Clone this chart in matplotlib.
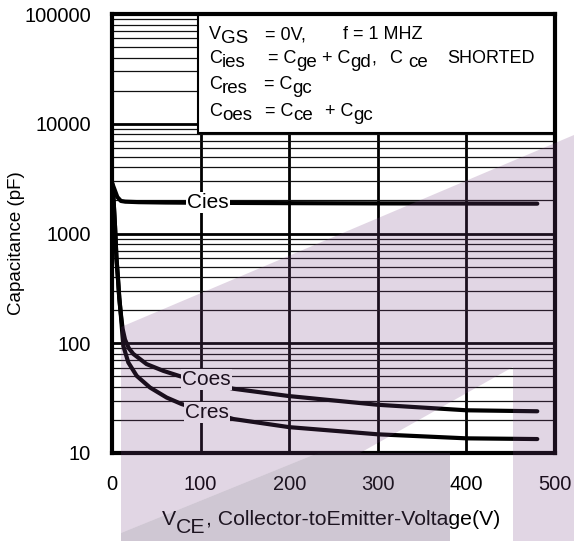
import numpy as np
import matplotlib
matplotlib.use('Agg')
import matplotlib.pyplot as plt
from matplotlib.patches import Polygon, Rectangle
from matplotlib.ticker import FixedLocator, NullFormatter

plt.rcParams['font.family'] = ['Liberation Sans', 'DejaVu Sans']

# curve data
cies_v = [0, 3, 6, 10, 15, 30, 60, 100, 200, 300, 400, 480]
cies_c = [2900, 2500, 2150, 1980, 1950, 1930, 1915, 1905, 1890, 1880, 1875, 1870]

coes_v = [0, 1.5, 3.4, 5, 6.8, 8.2, 10, 12, 14.7, 19, 24, 39, 58, 77, 137, 200, 300, 400, 480]
coes_c = [2900, 2200, 1160, 600, 382, 260, 185, 135, 108, 90, 80, 64.6, 56, 50, 38.5, 33, 27.5, 24.5, 24]

cres_v = [0, 1.5, 3.4, 5, 6.8, 8.2, 10, 12.8, 18.4, 27.9, 42.9, 61.7, 78.7, 137, 200, 300, 400, 480]
cres_c = [2900, 2200, 1160, 600, 382, 260, 180, 94.5, 66.8, 50.4, 39.5, 32, 27.9, 20.4, 17.2, 14.8, 13.6, 13.4]

x_ticks = [0, 100, 200, 300, 400, 500]
y_ticks = [10, 100, 1000, 10000, 100000]
y_tick_labels = ['10', '100', '1000', '10000', '100000']

# curve labels: (text, V, C)
curve_labels = [('Cies', 108, 1925), ('Coes', 107, 47), ('Cres', 107, 23.6)]

# condition box rows: list of segments (x pixel, [(text, is_sub), ...])
box_rows = [
    [(209, [('V', False), ('GS', True)]),
     (265, [('= 0V,', False)]),
     (343, [('f = 1 MHZ', False)])],
    [(209, [('C', False), ('ies', True)]),
     (268, [('= C', False), ('ge', True)]),
     (322, [('+ C', False), ('gd', True), (',', False)]),
     (390, [('C ', False), ('ce', True)]),
     (447, [('SHORTED', False)])],
    [(209, [('C', False), ('res', True)]),
     (264, [('= C', False), ('gc', True)])],
    [(209, [('C', False), ('oes', True)]),
     (265, [('= C', False), ('ce', True)]),
     (325, [('+ C', False), ('gc', True)])],
]
row_base = [39, 63, 89, 116]

W, H = 574, 541
fig = plt.figure(figsize=(W / 100, H / 100), dpi=100)
L, R, T, B = 112, 555, 14, 453
ax = fig.add_axes([L / W, 1 - B / H, (R - L) / W, (B - T) / H])

ax.set_yscale('log')
ax.set_xlim(0, 500)
ax.set_ylim(10, 100000)

ax.plot(cies_v, cies_c, color='black', lw=3, solid_capstyle='round', zorder=3)
ax.plot(coes_v, coes_c, color='black', lw=3, solid_capstyle='round', zorder=3)
ax.plot(cres_v, cres_c, color='black', lw=3, solid_capstyle='round', zorder=3)

for name, v, c in curve_labels:
    ax.text(v, c, name, fontsize=15, ha='center', va='center', zorder=4,
            bbox=dict(boxstyle='square,pad=0.05', fc='white', ec='none'))

ax.set_xticks(x_ticks)
ax.set_xticklabels([str(t) for t in x_ticks])
ax.set_yticks(y_ticks)
ax.set_yticklabels(y_tick_labels)
ax.yaxis.set_minor_locator(FixedLocator(
    [m * 10 ** e for e in range(1, 5) for m in range(2, 10)]))
ax.yaxis.set_minor_formatter(NullFormatter())
ax.tick_params(which='both', length=0)
ax.tick_params(axis='y', labelsize=14.5, pad=15)
ax.tick_params(axis='x', labelsize=14.5, pad=16)

ax.grid(True, which='major', color='black', lw=2)
ax.grid(True, which='minor', axis='y', color='#111111', lw=0.9)
ax.set_axisbelow(True)
for s in ax.spines.values():
    s.set_linewidth(3)
    s.set_zorder(5)

# condition box
bx0 = (198 - L) / (R - L)
by0 = (B - 133) / (B - T)
ax.add_patch(Rectangle((bx0, by0), 1 - bx0, 1 - by0, transform=ax.transAxes,
                       fc='white', ec='black', lw=1.5, zorder=2.5))


def rich(x_px, y_px, parts, size, subsize, drop):
    t = fig.text(x_px / W, 1 - y_px / H, parts[0][0], fontsize=size,
                 va='baseline', zorder=6)
    prev = parts[0][1]
    for s, sub in parts[1:]:
        dy = 0
        if sub and not prev:
            dy = -drop
        elif prev and not sub:
            dy = drop
        t = ax.annotate(s, xy=(1, 0), xycoords=t, xytext=(0, dy),
                        textcoords='offset points', va='bottom',
                        fontsize=subsize if sub else size, zorder=6,
                        annotation_clip=False)
        prev = sub


for row, yb in zip(box_rows, row_base):
    for x_px, parts in row:
        rich(x_px, yb, parts, 13, 13.5, 3)

fig.text(17 / W, 1 - 243 / H, 'Capacitance (pF)', rotation=90, fontsize=13.5,
         ha='center', va='center')
rich(162, 525, [('V', False), ('CE', True),
                (', Collector-toEmitter-Voltage(V)', False)], 15.3, 15.3, 5.5)

# watermark (pixel coords)
purple = [(121, 327), (574, 135), (574, 541), (513, 541), (513, 367),
          (360, 453), (318, 453), (121, 533)]
grey = [(121, 533), (318, 453), (450, 453), (450, 541), (121, 541)]


def to_fig(pts):
    return [(x / W, 1 - y / H) for x, y in pts]


fig.add_artist(Polygon(to_fig(purple), closed=True, transform=fig.transFigure,
                       fc=(0.48, 0.27, 0.52), ec='none', alpha=0.22, zorder=10))
fig.add_artist(Polygon(to_fig(grey), closed=True, transform=fig.transFigure,
                       fc=(0.39, 0.28, 0.44), ec='none', alpha=0.3, zorder=10))

fig.savefig('out.png', dpi=100)
